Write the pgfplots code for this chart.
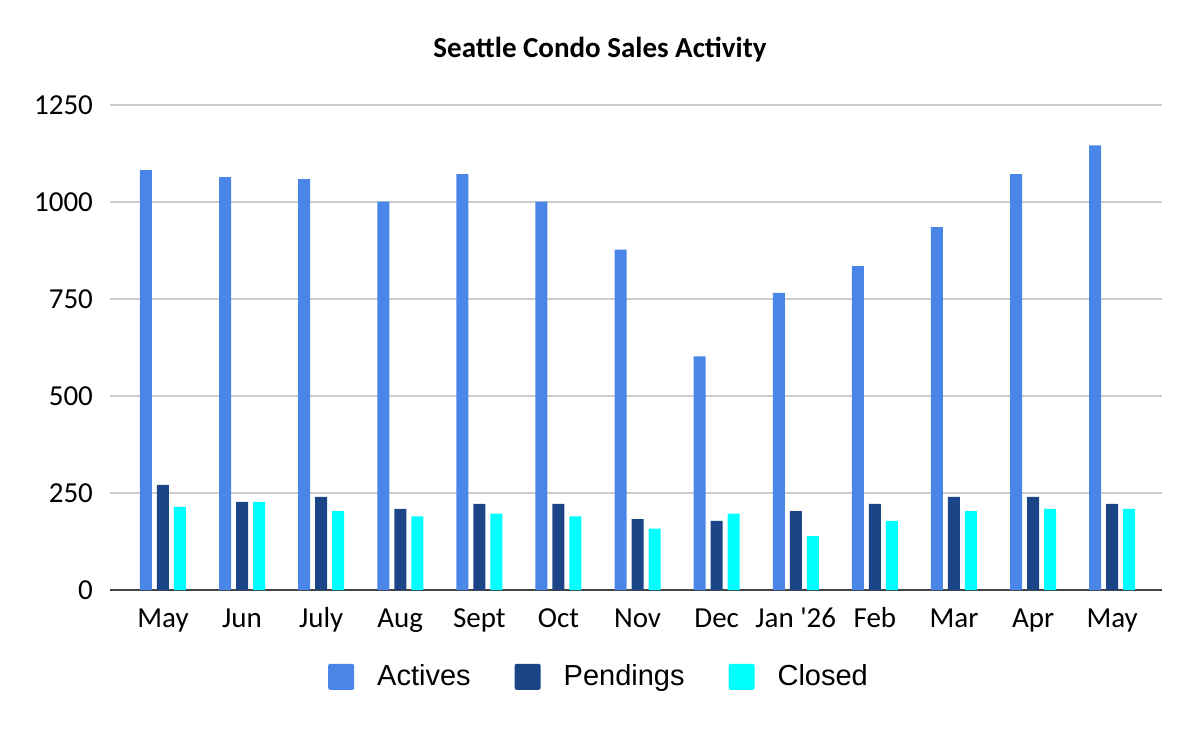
\documentclass[border=0pt]{standalone}
\usepackage{pgfplots}
\pgfplotsset{compat=1.18}
\usepackage{fontspec}
\setmainfont{Liberation Sans}
\newfontfamily\calibri{Carlito}
\definecolor{cAct}{HTML}{4A86E8}
\definecolor{cPen}{HTML}{1C4587}
\definecolor{cClo}{HTML}{00FFFF}
\definecolor{cGrid}{HTML}{CCCCCC}
\definecolor{cBase}{HTML}{444444}
\begin{document}
\begin{tikzpicture}
\path[use as bounding box] (0,0) rectangle (600pt,365pt);
\begin{axis}[
  at={(55pt,70pt)}, anchor=south west,
  scale only axis, width=526pt, height=242.5pt,
  ybar=2.5pt, bar width=6pt,
  xmin=-0.67, xmax=12.63,
  ymin=0, ymax=1250,
  ytick={0,250,500,750,1000,1250},
  xtick={0,...,12},
  xticklabels={May,Jun,July,Aug,Sept,Oct,Nov,Dec,Jan '26,Feb,Mar,Apr,May},
  major tick length=0pt,
  ymajorgrids, grid style={cGrid, line width=1.2pt},
  axis y line*=left,
  y axis line style={draw=none},
  axis x line*=bottom,
  x axis line style={cBase, line width=1.2pt, -},
  /pgf/number format/assume math mode=true,
  /pgf/number format/set thousands separator={},
  yticklabel style={font=\calibri\fontsize{14.5}{17}\selectfont, xshift=-5pt},
  xticklabel style={font=\calibri\fontsize{14.5}{17}\selectfont, anchor=base, yshift=-18.5pt},
  legend columns=3,
  legend style={draw=none, at={(0.4658,-0.179)}, anchor=center,
    font=\fontsize{14.5}{17}\selectfont,
    /tikz/every odd column/.append style={column sep=9.5pt},
    /tikz/every even column/.append style={column sep=20pt}},
  legend image code/.code={\fill[#1, rounded corners=1pt] (0pt,-6.5pt) rectangle (13pt,6.5pt);},
]
\addplot[fill=cAct, draw=none] coordinates {(0,1082) (1,1064) (2,1059) (3,1001) (4,1072) (5,1001) (6,877) (7,602) (8,766) (9,835) (10,935) (11,1072) (12,1146)};
\addplot[fill=cPen, draw=none] coordinates {(0,271) (1,227) (2,240) (3,209) (4,222) (5,222) (6,183) (7,178) (8,203) (9,222) (10,240) (11,240) (12,222)};
\addplot[fill=cClo, draw=none] coordinates {(0,214) (1,227) (2,203) (3,190) (4,197) (5,190) (6,158) (7,197) (8,139) (9,178) (10,203) (11,209) (12,209)};
\legend{Actives,Pendings,Closed}
\end{axis}
\node[font=\calibri\bfseries\fontsize{14.5}{17}\selectfont] at (300pt,340pt) {Seattle Condo Sales Activity};
\end{tikzpicture}
\end{document}
